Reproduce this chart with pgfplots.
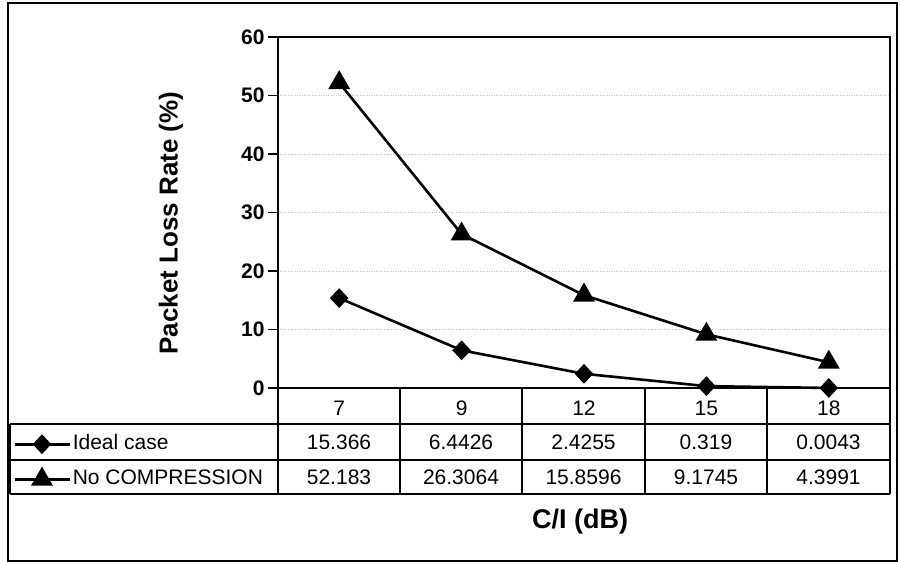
\documentclass[border=0pt]{standalone}
\usepackage{pgfplots}
\pgfplotsset{compat=1.18}
\usepackage{fontspec}
\setmainfont{Liberation Sans}
\newcommand{\tabfont}{\fontsize{21}{25}\selectfont}
\begin{document}
\begin{tikzpicture}[x=1pt,y=1pt]
\useasboundingbox (0,0) rectangle (900,562);
\draw[line width=1.6pt] (8,1) rectangle (897,559);
\begin{axis}[
  at={(278pt,174pt)}, anchor=south west,
  width=612pt, height=351pt, scale only axis,
  xmin=-0.5, xmax=4.5, ymin=0, ymax=60,
  xtick={0,1,2,3,4}, xticklabels={7,9,12,15,18},
  ytick={0,10,20,30,40,50,60},
  xtick pos=bottom, ytick pos=left,
  tick align=outside, major tick length=10pt,
  x tick style={draw=none},
  y tick style={black, line width=1.4pt},
  axis line style={black, line width=2.6pt},
  ymajorgrids, major grid style={gray!45, dotted, line width=0.7pt},
  /pgf/number format/assume math mode=true,
  yticklabel style={font=\fontsize{21}{24}\selectfont\bfseries, xshift=0pt},
  xticklabel style={font=\tabfont, anchor=center, yshift=-10pt},
  ylabel={Packet Loss Rate (\%)},
  xlabel={C/I (dB)},
  every axis y label/.style={at={(axis description cs:-0.175,0.47)}, rotate=90, anchor=center, font=\fontsize{26}{30}\selectfont\bfseries},
  every axis x label/.style={at={(axis description cs:0.4935,-0.379)}, anchor=center, font=\fontsize{27}{31}\selectfont\bfseries},
  legend image code/.code={\draw[mark repeat=2,mark phase=2,#1] plot coordinates {(0pt,0pt) (27.5pt,0pt) (55pt,0pt)};},
  legend style={at={(-0.433,-0.21)}, anchor=west, draw=none, fill=none, inner sep=0pt, row sep=12pt,
    nodes={inner sep=2pt, text height=15pt, text depth=4pt, font=\tabfont}},
  legend cell align=left,
  clip=false,
]
\addplot[black, line width=2.6pt, mark=diamond*, mark size=8pt, mark options={solid, fill=black, xscale=1.25}]
  coordinates {(0,15.366) (1,6.4426) (2,2.4255) (3,0.319) (4,0.0043)};
\addlegendentry{Ideal case}
\addplot[black, line width=2.6pt, mark=triangle*, mark size=10pt, mark options={solid, fill=black}]
  coordinates {(0,52.183) (1,26.3064) (2,15.8596) (3,9.1745) (4,4.3991)};
\addlegendentry{No COMPRESSION}
\end{axis}
% data table
\begin{scope}[line width=1.6pt]
\draw (10,138) -- (890,138);
\draw (10,102) -- (890,102);
\draw (10,68) -- (890,68);
\draw (10,138) -- (10,68);
\foreach \xx in {278,400,522,645,767,890} {\draw (\xx,174) -- (\xx,68);}
\end{scope}
\foreach \xx/\a/\b in {339/15.366/52.183, 461/6.4426/26.3064, 583.5/2.4255/15.8596, 706/0.319/9.1745, 828.5/0.0043/4.3991} {
  \node[font=\tabfont, anchor=center] at (\xx,120) {\a};
  \node[font=\tabfont, anchor=center] at (\xx,85) {\b};
}
\end{tikzpicture}
\end{document}
